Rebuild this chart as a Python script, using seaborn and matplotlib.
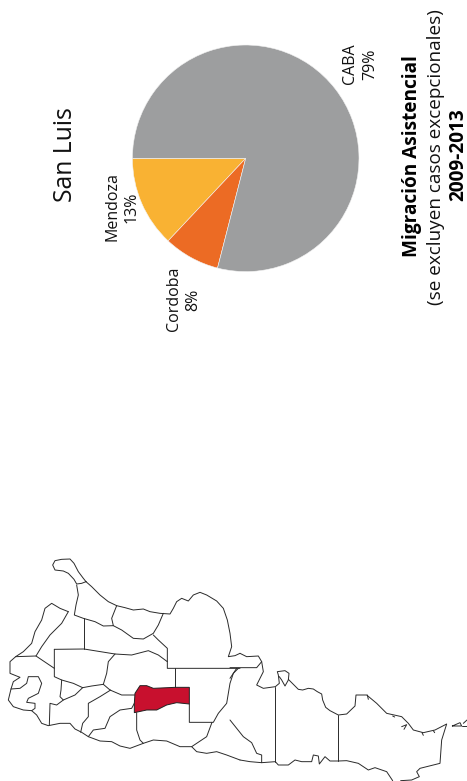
import matplotlib
matplotlib.use('Agg')
import matplotlib.pyplot as plt
import pandas as pd
import seaborn as sns

# pie
provincias = ['Mendoza', 'Cordoba', 'CABA']
porcentajes = [13, 8, 79]
colores = ['#F9B233', '#EC6B24', '#9D9E9F']

# map, first block is in crop A units (x/3, 540+y/3)
west_a = [
    [(258,125),(245,130),(230,132),(222,118),(205,100),(190,93),(165,90),(158,75),(165,62),(185,58),(210,57),(222,70),(235,95),(250,115),(258,125),(275,140),(300,165),(325,185),(350,197),(375,203),(400,210),(430,207),(450,215),(480,220),(510,222),(520,205),(530,185),(545,175),(565,183),(580,165),(600,157),(620,165),(650,183),(670,205),(682,240),(690,280),(695,320),(685,350),(705,347),(720,340)],
    [(230,135),(235,165),(228,195),(223,225),(250,235),(285,245),(310,258),(340,257),(335,235),(350,197)],
    [(205,215),(180,205),(155,190),(135,205),(125,240),(105,275),(95,310),(70,335),(47,350),(30,365),(30,400),(60,412),(40,425),(33,447),(25,480),(40,500),(70,510),(95,512),(110,525),(125,550),(145,557),(180,550),(210,550),(225,567),(245,577),(265,590),(300,603),(335,605),(360,618),(390,625),(430,610),(460,600),(500,603),(540,620),(575,620),(590,635),(620,640),(650,635),(680,645),(720,660)],
    [(33,447),(60,445),(80,430),(85,410),(115,410),(125,430),(115,460),(85,475),(80,487),(105,490),(105,505),(95,512)],
    [(205,215),(185,250),(150,285),(125,320),(108,348),(47,350)],
    [(108,348),(163,385)],
    [(163,328),(163,410),(185,420),(220,430),(248,443),(275,438),(310,433),(330,450),(365,465),(405,465)],
    [(163,328),(252,327),(345,342),(395,345),(445,332),(475,345),(502,365)],
    [(252,235),(252,327)],
    [(345,342),(325,365),(320,400),(310,433)],
    [(340,257),(365,270),(400,295),(430,297),(460,280),(475,255),(490,220)],
    [(460,285),(475,300),(502,325),(502,385),(720,385)],
    [(526,385),(526,442)],
    [(568,492),(568,547),(640,547),(655,520),(680,490),(690,430),(700,400),(715,385)],
    [(636,547),(620,590),(575,620)],
    [(410,518),(410,570),(420,600),(430,610)],
    [(403,490),(395,505),(360,510),(330,530),(315,565),(280,570),(265,590)],
    [(332,450),(300,470),(265,490),(265,530),(248,550),(242,577)],
    [(185,420),(183,450),(180,470),(190,480),(225,465),(248,443)],
    [(190,480),(170,495),(150,490),(148,555)],
]
san_luis_a = [(405,460),(420,437),(440,437),(460,445),(526,442),(568,442),(568,492),(530,488),(500,495),(470,510),(440,510),(403,518),(403,490),(405,460)]

# second block, crop B units (230+x/3, 620+y/3)
east_b = [
    [(30,100),(50,110),(85,108),(95,125),(100,155),(80,195),(100,205),(136,200),(148,190),(145,165),(142,155),(165,152),(177,160),(175,180),(165,198),(155,180),(148,170)],
    [(175,178),(205,208),(218,210),(235,205),(250,207),(262,215),(275,222),(278,240),(287,262),(300,272),(325,285),(350,282),(375,258),(378,225),(410,225),(440,250),(470,280),(515,290),(535,310),(550,330),(580,338),(615,330),(650,312),(635,360),(630,430),(570,445),(560,455),(568,470),(545,480),(512,482)],
    [(667,318),(690,308),(695,318),(667,318)],
    [(695,318),(711,318)],
    [(700,310),(711,300)],
    [(30,420),(60,425),(95,428),(136,425),(145,435),(175,435),(195,420),(215,425),(245,425),(250,405),(265,408),(268,432),(285,410),(300,423),(325,423),(350,422),(385,430),(415,450),(435,443),(470,455),(488,482)],
    [(136,200),(136,425)],
    [(325,285),(325,423)],
    [(95,125),(80,143),(0,143)],
    [(20,145),(0,175)],
    [(0,300),(20,325),(40,350),(65,368),(80,400),(95,405),(95,428)],
    [(412,225),(415,238)],
    [(488,288),(494,291)],
    [(515,320),(530,314),(522,328)],
    [(576,338),(580,346)],
    [(610,332),(614,338)],
]


def crop_a(pts):
    return [(x / 3, 540 + y / 3) for x, y in pts]


def crop_b(pts):
    return [(230 + x / 3, 620 + y / 3) for x, y in pts]


sns.set_theme(style='white')
plt.rcParams['font.family'] = ['Open Sans', 'DejaVu Sans']

fig = plt.figure(figsize=(4.67, 7.81), dpi=100, facecolor='white')
ax = fig.add_axes([0, 0, 1, 1])

rows = []
segments = [crop_a(s) for s in west_a] + [crop_b(s) for s in east_b]
for i, seg in enumerate(segments):
    for order, (x, y) in enumerate(seg):
        rows.append({'x': x, 'y': y, 'seg': i, 'order': order})
mapa = pd.DataFrame(rows)
sns.lineplot(data=mapa, x='x', y='y', units='seg', estimator=None, sort=False,
             color='#2a2a2a', linewidth=0.7, ax=ax, legend=False)

red = crop_a(san_luis_a)
ax.fill([p[0] for p in red], [p[1] for p in red], facecolor='#C8102E',
        edgecolor='#222222', linewidth=0.7, zorder=3)

ax.set_xlim(0, 467)
ax.set_ylim(781, 0)
ax.axis('off')

# text, same font everywhere, all rotated
ax.text(65, 155, 'San Luis', rotation=90, fontsize=17.8, ha='center', va='center', color='#111111')
ax.text(113, 207, 'Mendoza', rotation=90, fontsize=11.5, ha='center', va='center', color='#111111')
ax.text(132, 207, '13%', rotation=90, fontsize=11.5, ha='center', va='center', color='#111111')
ax.text(174, 299, 'Cordoba', rotation=90, fontsize=11.5, ha='center', va='center', color='#111111')
ax.text(193, 300, '8%', rotation=90, fontsize=11.5, ha='center', va='center', color='#111111')
ax.text(350, 64, 'CABA', rotation=90, fontsize=11.5, ha='center', va='center', color='#111111')
ax.text(370, 64, '79%', rotation=90, fontsize=11.5, ha='center', va='center', color='#111111')
ax.text(412, 156, 'Migración Asistencial', rotation=90, fontsize=13.7, fontweight='bold', ha='center', va='center', color='black')
ax.text(436, 157, '(se excluyen casos excepcionales)', rotation=90, fontsize=13.6, ha='center', va='center', color='#111111')
ax.text(458, 155, '2009-2013', rotation=90, fontsize=13.7, fontweight='bold', ha='center', va='center', color='black')

# pie on its own axes, 1.25 radius box
cx, cy, r = 245.7, 158.3, 113.3
ax2 = fig.add_axes([(cx - r * 1.25) / 467, 1 - (cy + r * 1.25) / 781, r * 2.5 / 467, r * 2.5 / 781])
ax2.pie(porcentajes, colors=colores, startangle=180, counterclock=True,
        wedgeprops={'edgecolor': '#f3f3f3', 'linewidth': 0.4})
ax2.set_xlim(-1.25, 1.25)
ax2.set_ylim(-1.25, 1.25)
ax2.patch.set_alpha(0)

fig.savefig('out.png', dpi=100)
